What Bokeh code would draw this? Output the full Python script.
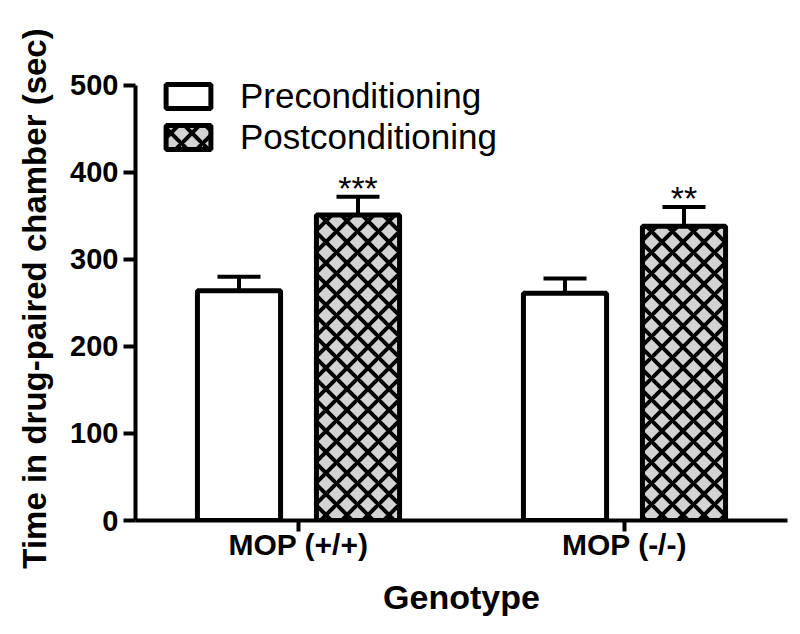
from bokeh.plotting import figure
from bokeh.models import Range1d, FixedTicker, Whisker, TeeHead, ColumnDataSource, Legend, LegendItem
from bokeh.core.properties import value
from bokeh.embed import file_html
from bokeh.resources import INLINE

# ---- data ----
genotypes = ["MOP (+/+)", "MOP (-/-)"]
series = ["Preconditioning", "Postconditioning"]
pre_values = [264, 261]
pre_errors = [16, 17]
post_values = [351, 338]
post_errors = [21, 22]
significance = ["***", "**"]
y_ticks = [0, 100, 200, 300, 400, 500]

FONT = "Liberation Sans"
group_x = list(range(len(genotypes)))
dodge = 0.1825
bar_w = 0.255

p = figure(width=800, height=634, output_backend="svg", toolbar_location=None,
           x_range=Range1d(-0.5, 1.5), y_range=Range1d(0, 510),
           min_border_left=135, min_border_right=13, min_border_top=76, min_border_bottom=114)
p.outline_line_color = None
p.grid.visible = False
p.background_fill_color = "white"

pre_src = ColumnDataSource(dict(x=[g - dodge for g in group_x], top=pre_values,
                                upper=[v + e for v, e in zip(pre_values, pre_errors)]))
post_src = ColumnDataSource(dict(x=[g + dodge for g in group_x], top=post_values,
                                 upper=[v + e for v, e in zip(post_values, post_errors)],
                                 sig=significance))

for src in (pre_src, post_src):
    w = Whisker(base="x", lower="top", upper="upper", source=src, line_width=4, line_color="black",
                upper_head=TeeHead(size=43, line_width=4, line_color="black"), lower_head=None)
    p.add_layout(w)

r_pre = p.vbar(x="x", top="top", width=bar_w, bottom=0, source=pre_src,
               fill_color="white", line_color="black", line_width=5)
r_post = p.vbar(x="x", top="top", width=bar_w, bottom=0, source=post_src,
                fill_color="#d3d3d3", line_color="black", line_width=5,
                hatch_pattern="diagonal_cross", hatch_color="black", hatch_weight=4, hatch_scale=21)

p.text(x="x", y="upper", text="sig", source=post_src, text_font=value(FONT),
       text_font_size="34px", text_align="center", text_baseline="alphabetic", y_offset=-9,
       text_color="black")

legend = Legend(items=[LegendItem(label=series[0], renderers=[r_pre]),
                       LegendItem(label=series[1], renderers=[r_post])],
                location=(25, 363), glyph_width=56, glyph_height=30, spacing=1,
                padding=0, margin=0, label_standoff=24,
                label_text_font=FONT, label_text_font_size="35px", label_text_color="black",
                background_fill_alpha=0, border_line_color=None)
p.add_layout(legend)

# axes
for ax in (p.xaxis[0], p.yaxis[0]):
    ax.axis_line_width = 4
    ax.axis_line_color = "black"
    ax.major_tick_line_width = 4
    ax.major_tick_line_color = "black"
    ax.major_tick_in = 0
    ax.minor_tick_line_color = None
    ax.major_label_text_font = FONT
    ax.major_label_text_font_style = "bold"
    ax.major_label_text_color = "black"
    ax.axis_label_text_font = FONT
    ax.axis_label_text_font_style = "bold"
    ax.axis_label_text_color = "black"

p.yaxis.bounds = (0, 500)
p.yaxis.ticker = FixedTicker(ticks=y_ticks)
p.yaxis.major_tick_out = 12
p.yaxis.major_label_text_font_size = "29px"
p.yaxis.major_label_standoff = 5
p.yaxis.axis_label = "Time in drug-paired chamber (sec)"
p.yaxis.axis_label_text_font_size = "33px"
p.yaxis.axis_label_standoff = 14

p.xaxis.ticker = FixedTicker(ticks=group_x)
p.xaxis.major_tick_out = 11
p.xaxis.major_label_overrides = {g: name for g, name in zip(group_x, genotypes)}
p.xaxis.major_label_text_font_size = "30px"
p.xaxis.major_label_standoff = -4
p.xaxis.axis_label = "Genotype"
p.xaxis.axis_label_text_font_size = "34px"
p.xaxis.axis_label_standoff = 14

open("out.html", "w").write(file_html(p, INLINE))
